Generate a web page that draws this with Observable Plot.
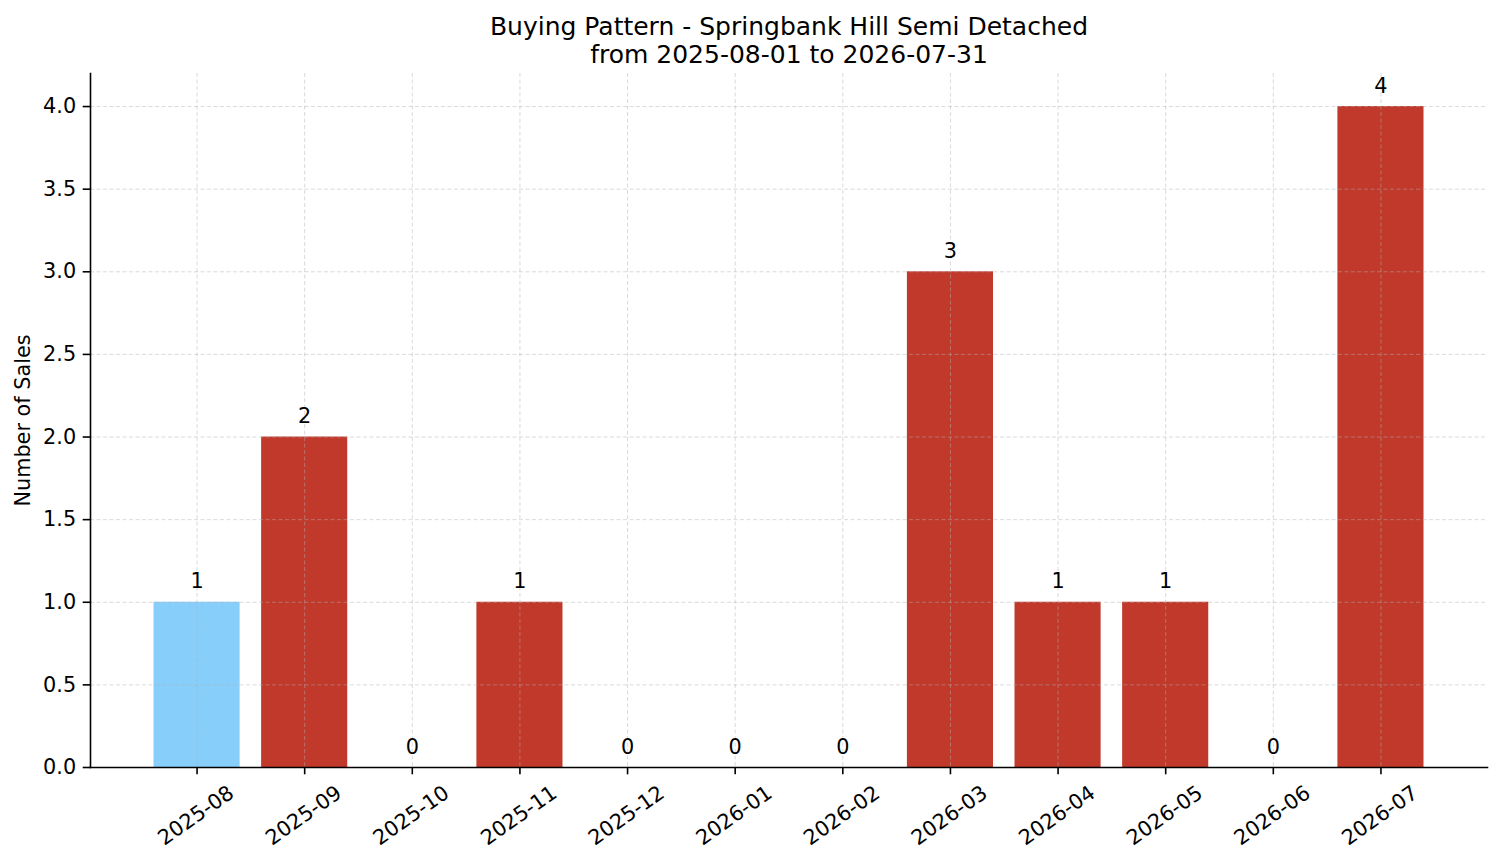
<!DOCTYPE html>
<html>
<head>
<meta charset="utf-8">
<script src="https://cdn.jsdelivr.net/npm/d3@7"></script>
<script src="https://cdn.jsdelivr.net/npm/@observablehq/plot@0.6"></script>
<style>
  html, body { margin: 0; padding: 0; background: #fff; }
  #chart svg { display: block; font-family: "DejaVu Sans", sans-serif; }
</style>
</head>
<body>
<div id="chart"></div>
<script>
const months = ["2025-08","2025-09","2025-10","2025-11","2025-12","2026-01","2026-02","2026-03","2026-04","2026-05","2026-06","2026-07"];
const sales = [1, 2, 0, 1, 0, 0, 0, 3, 1, 1, 0, 4];
const barColors = ["#87CEFA","#C0392B","#C0392B","#C0392B","#C0392B","#C0392B","#C0392B","#C0392B","#C0392B","#C0392B","#C0392B","#C0392B"];
const yTicks = [0, 0.5, 1.0, 1.5, 2.0, 2.5, 3.0, 3.5, 4.0];
const titleLines = ["Buying Pattern - Springbank Hill Semi Detached", "from 2025-08-01 to 2026-07-31"];
const yLabel = "Number of Sales";

const data = months.map((m, i) => ({month: m, value: sales[i], color: barColors[i]}));

const chart = Plot.plot({
  width: 1501,
  height: 863,
  marginLeft: 90,
  marginRight: 14,
  marginTop: 73,
  marginBottom: 96,
  style: {fontFamily: "DejaVu Sans", fontSize: "20.8px", color: "#000", background: "#fff", overflow: "visible"},
  x: {type: "band", domain: months, paddingInner: 0.2, paddingOuter: 0.59, align: 0.5, round: false},
  y: {domain: [0, 4.2]},
  marks: [
    Plot.barY(data, {x: "month", y: "value", fill: "color"}),
    Plot.gridY(yTicks, {stroke: "#b0b0b0", strokeOpacity: 0.6, strokeWidth: 0.8, strokeDasharray: "4,2.5"}),
    Plot.gridX(months, {stroke: "#b0b0b0", strokeOpacity: 0.6, strokeWidth: 0.8, strokeDasharray: "4,2.5"}),
    Plot.frame({anchor: "left", stroke: "#000", strokeWidth: 1.6}),
    Plot.frame({anchor: "bottom", stroke: "#000", strokeWidth: 1.6}),
    Plot.axisY({ticks: yTicks, tickFormat: d3.format(".1f"), tickSize: 7.3, tickPadding: 7, strokeWidth: 1.6, fontSize: 20.8, label: null}),
    Plot.axisX({ticks: months, tickSize: 7.3, strokeWidth: 1.6, tickFormat: () => "", label: null}),
    Plot.text(months, {x: d => d, frameAnchor: "bottom", dy: 48, dx: -1, rotate: -35, textAnchor: "middle", lineAnchor: "middle", fontSize: 20.8, fill: "#000"}),
    Plot.text(data, {x: "month", y: "value", text: d => String(d.value), dy: -20.5, lineAnchor: "middle", textAnchor: "middle", fontSize: 20.8, fill: "#000"}),
    Plot.text([yLabel], {frameAnchor: "left", dx: -67, rotate: -90, textAnchor: "middle", lineAnchor: "middle", fontSize: 20.8, fill: "#000"}),
    Plot.text([titleLines[0]], {frameAnchor: "top", dy: -47, textAnchor: "middle", lineAnchor: "middle", fontSize: 25, fill: "#000"}),
    Plot.text([titleLines[1]], {frameAnchor: "top", dy: -19, textAnchor: "middle", lineAnchor: "middle", fontSize: 25, fill: "#000"})
  ]
});
document.getElementById("chart").appendChild(chart);
</script>
</body>
</html>
